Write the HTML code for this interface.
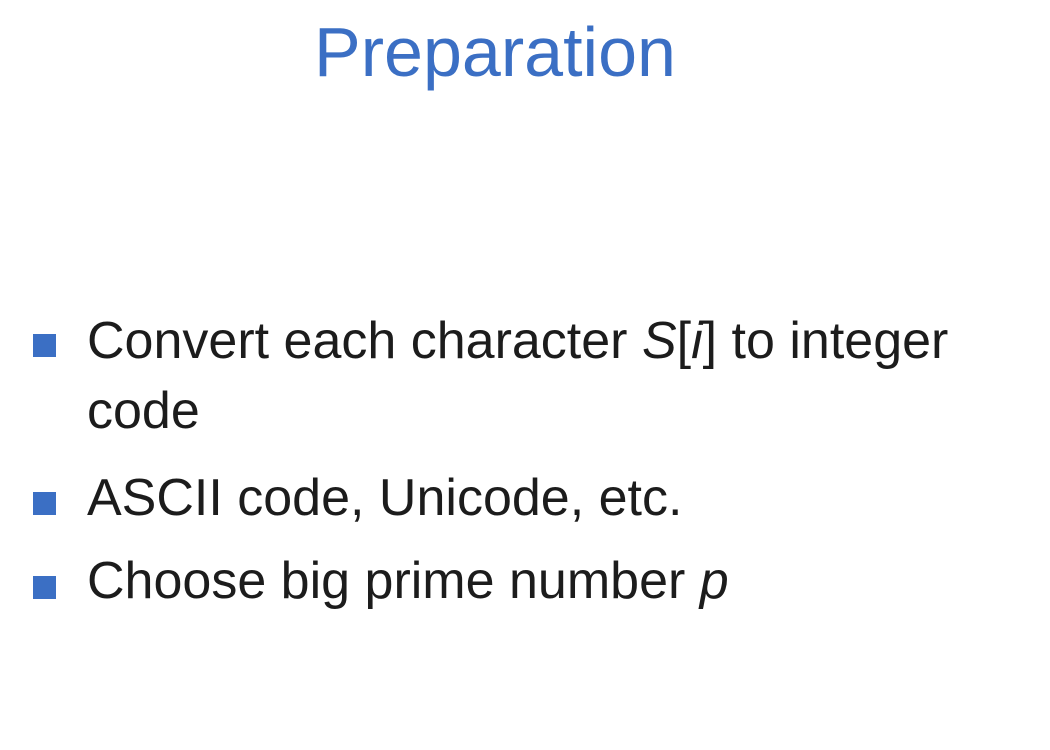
<!DOCTYPE html>
<html><head><meta charset="utf-8"><style>
body{margin:0;width:1050px;height:750px;background:#fff;overflow:hidden;position:relative;font-family:"Liberation Sans",sans-serif;color:#1c1c1c}
.t{position:absolute;left:0;width:990px;text-align:center;top:12px;font-size:70px;color:#3b6fc4}
.l{position:absolute;left:87px;font-size:52px;white-space:nowrap;line-height:1}
.b{position:absolute;left:33px;width:23px;height:23px;background:#3b6fc4}
i{font-style:italic}
</style></head><body>
<div class="t">Preparation</div>
<div class="b" style="top:334px"></div>
<div class="l" style="top:315px">Convert each character <i>S</i>[<i>i</i>] to integer</div>
<div class="l" style="top:385px">code</div>
<div class="b" style="top:492px"></div>
<div class="l" style="top:472px">ASCII code, Unicode, etc.</div>
<div class="b" style="top:576px"></div>
<div class="l" style="top:555px">Choose big prime number <i>p</i></div>
</body></html>
